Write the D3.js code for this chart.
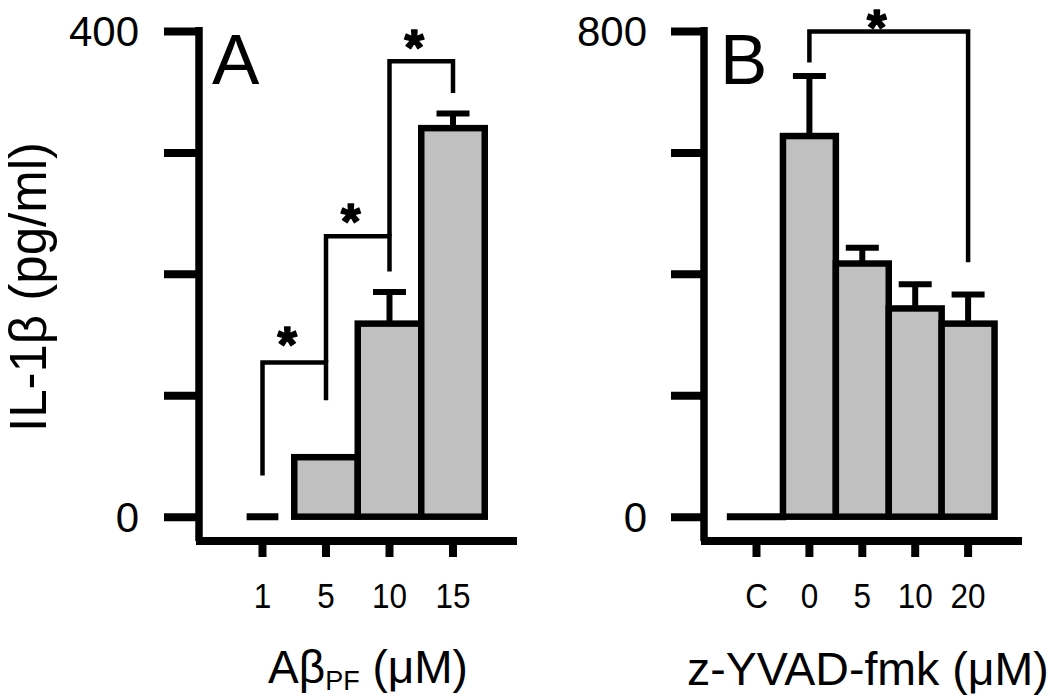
<!DOCTYPE html>
<html>
<head>
<meta charset="utf-8">
<script src="https://cdn.jsdelivr.net/npm/d3@7"></script>
<style>
  html, body { margin: 0; padding: 0; background: #fff; }
  svg { display: block; }
  text { font-family: "Liberation Sans", Arial, Helvetica, sans-serif; fill: #000; }
</style>
</head>
<body>
<script>
// ---------------- data ----------------
const catsA = ["1", "5", "10", "15"];
const valsA = [0, 49, 159, 320];
const errA  = [0, 0, 26, 12];

const catsB = ["C", "0", "5", "10", "20"];
const valsB = [0, 627, 417, 343, 318];
const errB  = [0, 99, 26, 40, 48];

const yTicksA = [0, 100, 200, 300, 400];
const yLabelsA = [0, 400];
const yTicksB = [0, 200, 400, 600, 800];
const yLabelsB = [0, 800];

// significance brackets (values in data units)
const bracketsA = [
  { from: "1",  to: "5",  left: 34,  top: 127, right: 96,  star: 150 },
  { from: "5",  to: "10", left: 127, top: 231, right: 202, star: 251 },
  { from: "10", to: "15", left: 231, top: 375, right: 349, star: 395 }
];
const bracketsB = [
  { from: "0", to: "20", left: 748, top: 799, right: 419, star: 822 }
];

const yTitle = "IL-1\u03B2 (pg/ml)";
const xTitleB = "z-YVAD-fmk (\u03BCM)";

// ---------------- layout ----------------
const W = 1050, H = 696;
const svg = d3.select("body").append("svg").attr("width", W).attr("height", H);

const FILL = "#c0c0c0";
const y0px = 516.7, yTopPx = 31;
const xAxisY = 541;
const STAR_FS = 50;

function panel(cfg) {
  const g = svg.append("g");
  const y = d3.scaleLinear().domain(cfg.yDomain).range([y0px, yTopPx]);
  const x = d3.scaleBand().domain(cfg.cats).range(cfg.xRange).padding(0);
  const bw = x.bandwidth();
  const cx = c => x(c) + bw / 2;

  // y axis ticks
  const ya = d3.axisLeft(y).tickValues(cfg.yTicks).tickSize(cfg.tickLen).tickSizeOuter(0).tickFormat("");
  const yg = g.append("g").attr("transform", `translate(${cfg.axisX},0)`).call(ya);
  yg.select(".domain").remove();
  yg.selectAll(".tick line").attr("stroke", "#000").attr("stroke-width", 8);

  // y tick labels
  g.selectAll(".ylab").data(cfg.yLabels).join("text")
    .attr("x", cfg.labelX).attr("y", d => y(d) + 15)
    .attr("text-anchor", "end").attr("font-size", 42).text(d => d);

  // y axis line
  g.append("line").attr("x1", cfg.axisX).attr("x2", cfg.axisX)
    .attr("y1", yTopPx - 4).attr("y2", xAxisY).attr("stroke", "#000").attr("stroke-width", 7.5);

  // x axis
  const xa = d3.axisBottom(x).tickSize(16).tickSizeOuter(0);
  const xg = g.append("g").attr("transform", `translate(0,${xAxisY})`).call(xa);
  xg.select(".domain").remove();
  xg.selectAll(".tick line").attr("stroke", "#000").attr("stroke-width", 8);
  xg.selectAll(".tick text").attr("y", 0).attr("dy", 0).attr("font-size", 35)
    .attr("transform", "translate(0,67) scale(0.9,1)")
    .style("font-family", "'Liberation Sans', Arial, sans-serif").attr("fill", "#000");
  g.append("line").attr("x1", cfg.axisX - 3).attr("x2", cfg.xAxisEnd)
    .attr("y1", xAxisY).attr("y2", xAxisY).attr("stroke", "#000").attr("stroke-width", 8);

  // bars
  const rows = cfg.cats.map((c, i) => ({ c, v: cfg.vals[i], e: cfg.errs[i] }));
  g.selectAll(".zero").data(rows.filter(d => d.v === 0)).join("line")
    .attr("x1", d => cx(d.c) - cfg.zeroW(bw) / 2).attr("x2", d => cx(d.c) + cfg.zeroW(bw) / 2)
    .attr("y1", y(0)).attr("y2", y(0)).attr("stroke", "#000").attr("stroke-width", 7);
  const nz = rows.filter(d => d.v > 0);
  g.selectAll(".estem").data(nz.filter(d => d.e > 0)).join("line")
    .attr("x1", d => cx(d.c)).attr("x2", d => cx(d.c))
    .attr("y1", d => y(d.v)).attr("y2", d => y(d.v + d.e))
    .attr("stroke", "#000").attr("stroke-width", 6);
  g.selectAll(".ecap").data(nz.filter(d => d.e > 0)).join("line")
    .attr("x1", d => cx(d.c) - 16.5).attr("x2", d => cx(d.c) + 16.5)
    .attr("y1", d => y(d.v + d.e)).attr("y2", d => y(d.v + d.e))
    .attr("stroke", "#000").attr("stroke-width", 6);
  g.selectAll(".bar").data(nz).join("rect")
    .attr("x", d => x(d.c)).attr("width", bw)
    .attr("y", d => y(d.v)).attr("height", d => y(0) - y(d.v))
    .attr("fill", FILL).attr("stroke", "#000").attr("stroke-width", 6.5);

  // brackets
  g.selectAll(".br").data(cfg.brackets).join("path")
    .attr("d", d => `M${cx(d.from)},${y(d.left)}V${y(d.top)}H${cx(d.to)}V${y(d.right)}`)
    .attr("fill", "none").attr("stroke", "#000").attr("stroke-width", 4.5);
  g.selectAll(".star").data(cfg.brackets).join("text")
    .attr("x", d => (cx(d.from) + cx(d.to)) / 2 + cfg.starShift)
    .attr("y", d => y(d.star) + 0.55 * STAR_FS)
    .attr("text-anchor", "middle").attr("font-size", STAR_FS).attr("font-weight", "bold")
    .attr("stroke", "#000").attr("stroke-width", 1.6).attr("stroke-linejoin", "round").text("*");

  // panel letter
  g.append("text").attr("x", cfg.letterX).attr("y", 84).attr("font-size", 71).text(cfg.letter);
  return { g, x, y };
}

panel({
  cats: catsA, vals: valsA, errs: errA, yDomain: [0, 400], yTicks: yTicksA, yLabels: yLabelsA,
  xRange: [230.75, 484.75], axisX: 199, tickLen: 35, labelX: 139, xAxisEnd: 517,
  zeroW: bw => bw * 0.5, brackets: bracketsA, starShift: -7, letter: "A", letterX: 212
});
panel({
  cats: catsB, vals: valsB, errs: errB, yDomain: [0, 800], yTicks: yTicksB, yLabels: yLabelsB,
  xRange: [730.05, 994.55], axisX: 704, tickLen: 33, labelX: 647, xAxisEnd: 1022,
  zeroW: bw => bw + 6.5, brackets: bracketsB, starShift: -12, letter: "B", letterX: 720
});

// y title
svg.append("text").attr("transform", "translate(46,287) rotate(-90)")
  .attr("text-anchor", "middle").attr("font-size", 51).text(yTitle);

// x titles
const tA = svg.append("text").attr("x", 268).attr("y", 683).attr("font-size", 46);
tA.append("tspan").text("A\u03B2");
tA.append("tspan").attr("font-size", 27).attr("dy", 7).text("PF");
tA.append("tspan").attr("dy", -7).text(" (\u03BCM)");
svg.append("text").attr("x", 687).attr("y", 685).attr("font-size", 46.5).text(xTitleB);
</script>
</body>
</html>
